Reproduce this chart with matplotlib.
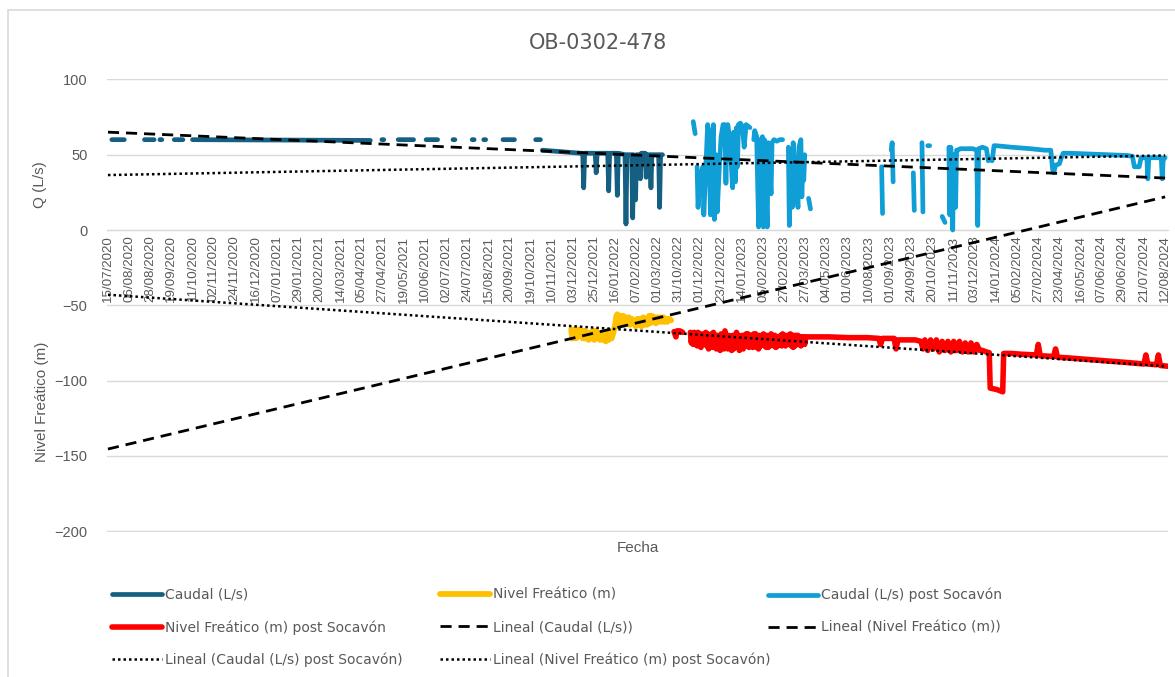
import numpy as np
import matplotlib
matplotlib.use("Agg")
from matplotlib import pyplot as plt
from matplotlib.patches import Rectangle

nan = np.nan

# category labels (one tick every 22 categories)
fechas = ["15/07/2020", "06/08/2020", "28/08/2020", "19/09/2020", "11/10/2020", "02/11/2020",
          "24/11/2020", "16/12/2020", "07/01/2021", "29/01/2021", "20/02/2021", "14/03/2021",
          "05/04/2021", "27/04/2021", "19/05/2021", "10/06/2021", "02/07/2021", "24/07/2021",
          "15/08/2021", "20/09/2021", "19/10/2021", "10/11/2021", "03/12/2021", "25/12/2021",
          "16/01/2022", "07/02/2022", "01/03/2022", "31/10/2022", "01/12/2022", "23/12/2022",
          "14/01/2023", "05/02/2023", "27/02/2023", "27/03/2023", "04/05/2023", "01/06/2023",
          "10/08/2023", "01/09/2023", "24/09/2023", "20/10/2023", "11/11/2023", "03/12/2023",
          "14/01/2024", "05/02/2024", "27/02/2024", "23/04/2024", "16/05/2024", "07/06/2024",
          "29/06/2024", "21/07/2024", "12/08/2024"]
paso = 22

# Caudal (L/s)
caudal_x = [4, 17, nan, 38, 48, nan, 54, 56, nan, 69, 78, nan, 88, 273, nan, 285, 287, nan,
            302, 318, nan, 331, 343, nan, 359, 361, nan, 379, 381, nan, 391, 393, nan,
            411, 423, nan, 445, 450, nan,
            452, 462, 472, 482, 492, 494, 495, 496, 507, 508, 509, 520, 521, 522, 529, 530, 531,
            538, 539, 540, 545, 546, 547, 549, 550, 553, 554, 555, 559, 560, 561, 564, 565, 566,
            573, 574, 575, 577]
caudal_y = [60, 60, nan, 60, 60, nan, 60, 60, nan, 60, 60, nan, 60, 59.5, nan, 60, 60, nan,
            60, 60, nan, 60, 60, nan, 60, 60, nan, 60, 60, nan, 60, 60, nan,
            60, 60, nan, 60, 60, nan,
            53, 52.5, 52, 51.5, 51, 51, 28, 51, 51, 38, 51, 51, 26, 51, 51, 23, 51,
            50, 4, 50, 50, 8, 50, 20, 50, 50, 34, 51, 51, 35, 50, 50, 28, 50,
            50, 15, 50, 50]

# Nivel Freático (m)
nivel_x = [482, 483, 484, 485, 486, 487, 488, 489, 490, 492, 493, 494, 496, 497, 499, 500, 502,
           503, 505, 506, 508, 509, 511, 512, 514, 515, 517, 518, 520, 521, 523, 524, 526,
           528, 529, 530, 531, 533, 534, 536, 537, 539, 540, 542, 543, 545, 546, 548, 549, 551,
           552, 554, 555, 557, 558, 560, 561, 563, 564, 566, 567, 569, 570, 572, 573, 575, 576,
           578, 579, 581, 582, 584, 586]
nivel_y = [-66, -72, -67, -71, -66, -72, -67, -71, -66, -70, -67, -72, -67, -72, -68, -73, -68,
           -72, -67, -73, -67, -72, -69, -73, -68, -73, -69, -74, -68, -73, -68, -72, -68,
           -62, -57, -56, -62, -57, -62, -57, -63, -58, -62, -58, -63, -59, -62, -60, -64, -59,
           -63, -59, -64, -58, -63, -60, -63, -57, -62, -57, -61, -58, -62, -58, -61, -58, -61,
           -58, -61, -59, -61, -59, -60]

# Caudal (L/s) post Socavón
caudal_post_x = [609, 611, nan, 613, 614, 616, 619, 620, 622, 624, 625, 627, 629, 630, 631, 633,
                 634, 636, 638, 640, 642, 643, 644, 645, 647, 650, 651, 653, 654, 655, 656, 658,
                 660, 662, 664, 666, 668, nan, 672, 673, 675, 677, 678, 681, 682, 683, 686, 687,
                 690, 691, 693, 696, 699, 702, nan, 708, 709, 710, 712, 713, 715, 718, 719, 721,
                 722, 723, 724, 725, nan, 729, 731, nan, 805, 806, nan, 815, 816, 817, nan,
                 838, 839, nan, 847, 848, nan, 853, 855, nan, 868, 871, nan,
                 875, 876, 877, 879, 880, 882, 883, 884, 887, 895, 900, 904, 905, 906, 910, 914,
                 916, 918, 920, 922, 924, 940, 960, 975, 981, 983, 984, 986, 990, 992, 994, 1000,
                 1020, 1040, 1060, 1066, 1068, 1073, 1075, 1081, 1082, 1083, 1090, 1096, 1097,
                 1098, 1100]
caudal_post_y = [72, 64, nan, 42, 15, 35, 42, 10, 40, 70, 66, 10, 60, 70, 7, 50,
                 12, 40, 62, 70, 70, 31, 68, 70, 60, 28, 65, 32, 68, 42, 70, 71,
                 69, 55, 70, 69, 68, nan, 60, 66, 62, 2, 58, 62, 2, 60, 2, 58,
                 24, 58, 60, 59, 60, 60, nan, 55, 3, 52, 15, 58, 40, 15, 55, 60,
                 22, 45, 33, 50, nan, 21, 14, nan, 42, 11, nan, 53, 58, 32, nan,
                 38, 13, nan, 58, 12, nan, 56, 56, nan, 9, 5, nan,
                 55, 10, 55, 0, 50, 15, 53, 53, 54, 54, 54, 53, 3, 54, 55, 54,
                 46, 47, 46, 56, 56, 55, 54, 53, 53, 40, 38, 43, 44, 48, 51, 51,
                 50.5, 50, 49.5, 49, 42, 42, 48, 48, 34, 48, 48, 48, 34,
                 47, 48]

# Nivel Freático (m) post Socavón
nivel_post_x = [589, 591, 592, 595, 598, nan,
                606, 607, 608, 609, 610, 611, 612, 613, 614, 615, 616, 617, 618, 619, 620, 621,
                622, 623, 624, 625, 626, 627, 628, 629, 630, 631, 632, 633, 634, 635, 636, 637,
                638, 639, 640, 641, 642, 643, 644, 645, 646, 647, 648, 649, 650, 651, 652, 653,
                654, 655, 656, 657, 658, 659, 660, 661, 662, 663, 664, 665, 666, 667, 668, 669,
                670, 671, 672, 673, 674, 675, 676, 677, 678, 679, 680, 681, 682, 683, 684, 685,
                686, 687, 688, 689, 690, 691, 692, 693, 694, 695, 696, 697, 698, 699, 700, 701,
                702, 703, 704, 705, 706, 707, 708, 709, 710, 711, 712, 713, 714, 715, 716, 717,
                718, 719, 720, 721, 722, 723, 724, 725, 726,
                730, 750, 770, 790, 802, 804, 806, 818, 820, 822, 840, 846, 848, 850, 853, 856,
                859, 862, 865, 868, 871, 874, 877, 880, 883, 886, 889, 892, 895, 898, 901, 904,
                907, 910, 914, 917, 918, 925, 931, 932, 940, 950, 966, 968, 970, 984, 986, 988,
                1000, 1020, 1040, 1060, 1078, 1080, 1082, 1091, 1093, 1095, 1103]
nivel_post_y = [-67.5, -71, -67, -67, -68, nan,
                -68, -75, -69, -76, -68, -74, -69, -77, -68, -75, -70, -78, -69, -76, -70, -75,
                -68, -77, -69, -79, -70, -76, -69, -78, -68, -76, -70, -79, -70, -77, -71, -80,
                -69, -78, -70, -79, -67, -77, -70, -79, -70, -78, -71, -80, -70, -79, -71, -78,
                -68, -77, -70, -80, -71, -78, -70, -79, -70, -77, -69, -77, -69, -78, -70, -77,
                -70, -78, -69, -77, -69, -78, -71, -79, -70, -77, -71, -76, -69, -77, -70, -78,
                -70, -78, -71, -77, -69, -76, -70, -77, -70, -78, -71, -77, -71, -76, -70, -77,
                -69, -76, -70, -77, -70, -75, -70, -76, -69, -77, -70, -78, -70, -77, -70, -76,
                -70, -76, -71, -77, -71, -76, -71, -76, -71,
                -71, -71, -71.5, -71.5, -72, -76, -72, -72, -79, -73, -73, -74, -79, -73, -80, -73,
                -79, -73, -81, -74, -80, -74, -81, -74, -80, -74, -81, -75, -81, -75, -81, -76,
                -80, -80, -81, -81.5, -105, -106, -107.5, -82, -82, -82.5, -83, -76, -83.5, -84, -79, -84.5,
                -85, -86, -87, -88, -89, -83, -89, -89.5, -83, -90, -90.5]

# lineas de tendencia (extremos)
tend_x = [0, 1100]
tend_caudal = [65, 34.5]
tend_nivel = [-145.5, 22]
tend_caudal_post = [36.5, 49.5]
tend_nivel_post = [-43, -90.5]

gris = "#595959"
narrow = ["Liberation Sans Narrow", "DejaVu Sans"]
plt.rcParams["font.family"] = ["Liberation Sans", "DejaVu Sans"]

fig = plt.figure(figsize=(11.75, 6.77), dpi=100)
W, H = 1175, 677
ax = fig.add_axes([107 / W, 1 - 532 / H, (1168 - 107) / W, (532 - 79) / H])

lw = 3.4
kw = dict(solid_capstyle="round", solid_joinstyle="round")
l1, = ax.plot(caudal_x, caudal_y, color="#156082", lw=lw, label="Caudal (L/s)", zorder=3, **kw)
l2, = ax.plot(nivel_x, nivel_y, color="#FFC000", lw=4.2, label="Nivel Freático (m)", zorder=3, **kw)
l3, = ax.plot(caudal_post_x, caudal_post_y, color="#0F9ED5", lw=lw,
              label="Caudal (L/s) post Socavón", zorder=3, **kw)
l4, = ax.plot(nivel_post_x, nivel_post_y, color="#FF0000", lw=4.0,
              label="Nivel Freático (m) post Socavón", zorder=3, **kw)

dash = (0, (4, 2.5))
dot = (0, (1, 1.2))
t1, = ax.plot(tend_x, tend_caudal, color="black", lw=2, ls=dash, label="Lineal (Caudal (L/s))", zorder=4)
t2, = ax.plot(tend_x, tend_nivel, color="black", lw=2, ls=dash, label="Lineal (Nivel Freático (m))", zorder=4)
t3, = ax.plot(tend_x, tend_caudal_post, color="black", lw=1.8, ls=dot,
              label="Lineal (Caudal (L/s) post Socavón)", zorder=4)
t4, = ax.plot(tend_x, tend_nivel_post, color="black", lw=1.8, ls=dot,
              label="Lineal (Nivel Freático (m) post Socavón)", zorder=4)

ax.set_xlim(-1, 1103)
ax.set_ylim(-200.6, 100.3)
ax.set_yticks(np.arange(-200, 101, 50))
ax.yaxis.grid(True, color="#D9D9D9", lw=1)
ax.set_axisbelow(True)
for s in ["top", "right", "left"]:
    ax.spines[s].set_visible(False)
ax.spines["bottom"].set_position(("data", 0))
ax.spines["bottom"].set_color("#D9D9D9")

ax.set_xticks(np.arange(len(fechas)) * paso)
ax.set_xticklabels(fechas, rotation=90, fontsize=9.6, color=gris)
ax.tick_params(axis="x", length=0, pad=4)
ax.tick_params(axis="y", length=0, pad=14, labelsize=10.5, labelcolor=gris)

fig.text(598 / W, 1 - 43 / H, "OB-0302-478", ha="center", va="center", fontsize=15,
         color=gris, family=narrow)
fig.text(40 / W, 1 - 185 / H, "Q (L/s)", rotation=90, ha="center", va="center",
         fontsize=11, color=gris)
fig.text(42 / W, 1 - 402 / H, "Nivel Freático (m)", rotation=90, ha="center", va="center",
         fontsize=11, color=gris)
fig.text(638 / W, 1 - 548 / H, "Fecha", ha="center", va="center", fontsize=11, color=gris)

# marco del grafico
fig.patches.append(Rectangle((8 / W, -0.1), 1.2, 1.1 - 10 / H, transform=fig.transFigure,
                             fill=False, edgecolor="#D9D9D9", lw=1.2))

# leyenda en tres columnas
cols = [[l1, l4, t3], [l2, t1, t4], [l3, t2]]
xs = [112, 440, 768]
for hs, x0 in zip(cols, xs):
    fig.legend(handles=hs, labels=[h.get_label() for h in hs], loc="upper left",
               bbox_to_anchor=(x0 / W, 1 - 588 / H), frameon=False, borderpad=0,
               borderaxespad=0, handlelength=3.6, handletextpad=0.25, labelspacing=1.3,
               prop={"family": narrow, "size": 10}, labelcolor=gris)

fig.savefig("out.png", dpi=100)
